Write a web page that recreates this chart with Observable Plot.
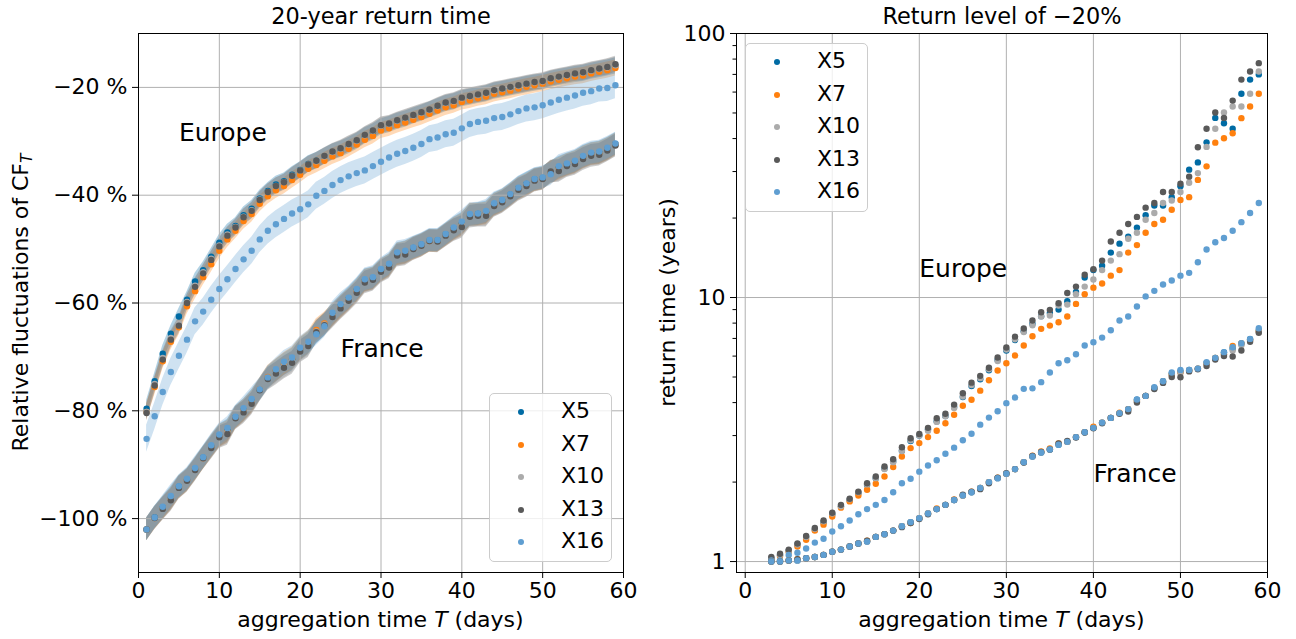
<!DOCTYPE html>
<html><head><meta charset="utf-8">
<script src="https://cdn.jsdelivr.net/npm/d3@7"></script>
<script src="https://cdn.jsdelivr.net/npm/@observablehq/plot@0.6"></script>
<style>
body{margin:0;background:#fff;}
#fig{position:relative;width:1296px;height:639px;font-family:"DejaVu Sans",sans-serif;color:#000;overflow:hidden;}
#fig svg{position:absolute;top:0;}
.legend{position:absolute;border:1px solid #cccccc;border-radius:5px;background:rgba(255,255,255,0.8);box-sizing:border-box;}
.legend .mk{position:absolute;width:6px;height:6px;border-radius:50%;}
.legend .tx{position:absolute;font-size:22px;line-height:22px;white-space:nowrap;}
</style></head>
<body><div id="fig"></div>
<script>
// ---------- categories ----------
const series = ["X5","X7","X10","X13","X16"];
const colors = ["#006BA4","#FF800E","#ABABAB","#595959","#5F9ED1"];

// ---------- left panel: 20-year return time (relative fluctuation, %) ----------
const daysLeft = [1,2,3,4,5,6,7,8,9,10,11,12,13,14,15,16,17,18,19,20,21,22,23,24,25,26,27,28,29,30,31,32,33,34,35,36,37,38,39,40,41,42,43,44,45,46,47,48,49,50,51,52,53,54,55,56,57,58,59];
const europeLeftX5  = [-79.6,-74.5,-69.4,-65.7,-62.5,-59.4,-56.0,-53.9,-51.4,-48.8,-46.9,-45.7,-43.7,-42.5,-40.6,-39.2,-38.0,-37.4,-36.2,-35.3,-34.2,-33.6,-32.8,-32.0,-31.5,-30.8,-30.0,-29.0,-28.3,-27.3,-26.9,-26.3,-25.9,-25.3,-24.8,-24.2,-23.6,-23.0,-22.7,-22.1,-21.8,-21.5,-21.2,-20.7,-20.4,-20.1,-19.8,-19.5,-19.2,-19.0,-18.5,-18.2,-17.9,-17.6,-17.4,-17.0,-16.7,-16.4,-16.0];
const europeLeftX7  = [-80.2,-75.6,-70.8,-67.2,-64.5,-60.6,-57.8,-55.2,-52.8,-50.3,-48.2,-46.6,-44.8,-43.5,-41.6,-40.2,-39.1,-38.3,-37.2,-36.2,-35.1,-34.4,-33.6,-32.8,-32.2,-31.4,-30.6,-29.7,-29.0,-28.0,-27.6,-27.0,-26.5,-26.0,-25.5,-24.9,-24.3,-23.7,-23.3,-22.7,-22.4,-22.0,-21.7,-21.2,-20.9,-20.6,-20.2,-19.9,-19.6,-19.3,-18.9,-18.6,-18.3,-18.0,-17.8,-17.4,-17.1,-16.8,-16.4];
const europeLeftX10 = [-80.2,-75.0,-70.2,-66.5,-63.8,-59.8,-56.8,-54.3,-51.8,-49.3,-47.3,-45.9,-44.0,-42.8,-40.8,-39.4,-38.3,-37.6,-36.4,-35.4,-34.3,-33.7,-32.8,-32.0,-31.4,-30.6,-29.9,-28.9,-28.1,-27.1,-26.8,-26.2,-25.7,-25.2,-24.7,-24.2,-23.5,-22.9,-22.6,-22.0,-21.7,-21.4,-21.1,-20.6,-20.3,-20.0,-19.7,-19.4,-19.1,-18.9,-18.4,-18.1,-17.8,-17.5,-17.3,-16.9,-16.6,-16.3,-15.9];
const europeLeftX13 = [-80.4,-75.3,-70.5,-66.8,-64.2,-60.0,-57.0,-54.5,-52.0,-49.5,-47.5,-46.0,-44.1,-42.9,-40.9,-39.4,-38.3,-37.6,-36.4,-35.4,-34.3,-33.6,-32.7,-31.9,-31.3,-30.5,-29.8,-28.8,-28.0,-27.0,-26.7,-26.1,-25.6,-25.1,-24.6,-24.1,-23.4,-22.8,-22.5,-21.9,-21.6,-21.3,-21.0,-20.5,-20.2,-19.9,-19.6,-19.3,-19.0,-18.8,-18.3,-18.0,-17.7,-17.4,-17.2,-16.8,-16.5,-16.2,-15.7];
const europeLeftX16 = [-85.2,-81.0,-76.5,-72.8,-69.8,-66.8,-63.4,-61.6,-59.4,-57.4,-55.6,-53.7,-51.9,-50.3,-48.2,-46.6,-45.4,-44.4,-43.4,-42.6,-41.7,-40.1,-39.2,-38.1,-37.2,-36.5,-35.9,-35.4,-34.6,-33.8,-33.0,-32.3,-31.8,-31.2,-30.5,-29.6,-29.3,-28.7,-28.4,-27.6,-26.8,-26.4,-26.2,-25.7,-25.5,-25.0,-24.4,-23.9,-23.7,-23.3,-22.8,-22.3,-21.9,-21.5,-21.0,-20.7,-20.2,-20.1,-19.6];
const franceLeftX5  = [-102,-99.8,-98,-96.2,-94.1,-92.8,-90.8,-88.7,-86.6,-84.6,-83.7,-81.2,-79.9,-78.2,-76.1,-73.9,-72.6,-71.4,-70.5,-68.6,-67.5,-65.5,-64,-62.2,-60.6,-59.2,-57.6,-55.8,-55.4,-53.9,-53,-50.9,-50.6,-49.8,-49.2,-48.4,-48.4,-47.3,-46.2,-45.3,-43.7,-43.5,-43.2,-41.7,-41,-39.9,-38.7,-37.9,-37.1,-36.8,-35.8,-34.9,-34.3,-33.8,-32.9,-32.3,-32.1,-31.4,-30.5];
const franceLeftX7  = [-102,-99.9,-98.1,-96.4,-94.2,-92.9,-90.9,-88.8,-86.7,-84.7,-83.9,-81.3,-80,-78.4,-76,-73.7,-72.5,-71.3,-70.3,-68.5,-67.3,-65,-63.8,-62.3,-60.8,-59.4,-57.8,-55.9,-55.5,-54,-53.1,-51,-50.7,-49.9,-49.3,-48.5,-48.5,-47.4,-46.3,-45.5,-43.6,-43.6,-43.4,-41.8,-41.1,-40,-38.8,-38.1,-37.2,-36.9,-35.8,-35.1,-34.4,-33.9,-33,-32.4,-32.2,-31.5,-30.6];
const franceLeftX10 = [-102,-99.9,-98.1,-96.4,-94.2,-92.9,-90.9,-88.8,-86.8,-84.8,-84,-81.3,-80.1,-78.5,-76.1,-74,-72.9,-71.8,-70.8,-68.8,-67.8,-65.3,-64,-62.4,-60.8,-59.4,-57.9,-56,-55.6,-54.1,-53.2,-51.1,-50.8,-49.9,-49.3,-48.4,-48.5,-47.4,-46.4,-45.6,-43.8,-43.7,-43.6,-41.9,-41.2,-40.1,-38.9,-38.2,-37.2,-36.9,-35.7,-35.3,-34.5,-34,-33.1,-32.5,-32.3,-31.6,-30.7];
const franceLeftX13 = [-102,-99.9,-98.2,-96.6,-94.3,-93,-91,-88.8,-86.9,-84.9,-84.3,-81.4,-80.3,-78.7,-76.2,-74.1,-73.1,-72,-71.1,-69,-68,-65.4,-64.1,-62.6,-61,-59.6,-58.1,-56.2,-55.7,-54.2,-53.4,-51.2,-51,-50,-49.4,-48.5,-48.6,-47.5,-46.5,-45.9,-44,-43.8,-43.8,-42,-41.3,-40.2,-39,-38.3,-37.3,-37,-35.6,-35.5,-34.6,-34.2,-33.3,-32.7,-32.5,-31.7,-30.8];
const franceLeftX16 = [-102.0,-99.8,-97.8,-95.8,-94.0,-92.6,-90.6,-88.6,-86.4,-84.4,-83.2,-81.1,-79.5,-77.8,-76.0,-73.8,-72.3,-70.9,-70.1,-68.3,-67.2,-65.8,-64.3,-61.8,-60.2,-59.0,-57.4,-55.6,-55.2,-53.7,-52.7,-50.6,-50.3,-49.7,-49.1,-48.3,-48.3,-47.2,-46.0,-44.9,-43.5,-43.4,-42.9,-41.5,-40.9,-39.8,-38.6,-37.8,-37.0,-36.7,-36.1,-34.6,-34.1,-33.6,-32.7,-32.1,-31.9,-31.2,-30.4];
// half-width of the shaded uncertainty band (percentage points), per series
const europeBandHalfWidth = [1.5,1.5,1.5,1.5,2.5];
const franceBandHalfWidth = [2.1,2.1,2.1,2.1,2.1];
const yTicksLeft = [-100,-80,-60,-40,-20];
const xTicks = [0,10,20,30,40,50,60];

// ---------- right panel: return time (years) of a -20% level ----------
const daysRight = [3,4,5,6,7,8,9,10,11,12,13,14,15,16,17,18,19,20,21,22,23,24,25,26,27,28,29,30,31,32,33,34,35,36,37,38,39,40,41,42,43,44,45,46,47,48,49,50,51,52,53,54,55,56,57,58,59];
const europeRightX5  = [1.03,1.06,1.10,1.16,1.24,1.32,1.41,1.51,1.62,1.71,1.82,1.95,2.07,2.25,2.40,2.63,2.86,3.00,3.17,3.40,3.56,3.85,4.20,4.62,4.90,5.30,5.80,6.30,6.90,7.45,7.95,8.50,8.73,9.00,9.68,10.5,11.9,12.7,13.2,14.8,16.0,17.0,18.4,20.5,22.3,22.3,24.0,26.4,30.5,32.5,38.7,47.9,45.7,43.6,59.1,66.9,70.0];
const europeRightX7  = [1.02,1.05,1.09,1.14,1.21,1.31,1.38,1.48,1.60,1.69,1.78,1.87,1.97,2.10,2.28,2.50,2.69,2.81,2.96,3.13,3.34,3.60,3.89,4.10,4.44,4.86,5.29,5.64,6.03,6.58,7.13,7.61,7.83,8.06,8.47,9.46,10.3,10.9,11.3,12.1,12.7,14.8,15.8,17.6,19.0,19.7,21.5,23.4,24.0,27.9,31.4,38.6,40.1,41.9,47.8,52.9,59.1];
const europeRightX10 = [1.03,1.06,1.10,1.16,1.24,1.33,1.42,1.52,1.62,1.72,1.83,1.96,2.07,2.24,2.38,2.62,2.88,3.00,3.13,3.38,3.55,3.82,4.22,4.66,4.95,5.35,5.75,6.35,6.95,7.40,7.85,8.47,8.55,9.33,9.40,10.3,11.0,11.7,12.7,13.8,14.6,16.7,17.6,19.7,20.9,22.8,23.3,25.1,27.2,29.6,37.2,43.6,50.2,52.9,52.9,59.1,71.8];
const europeRightX13 = [1.04,1.07,1.11,1.17,1.25,1.34,1.43,1.53,1.64,1.73,1.84,1.98,2.10,2.29,2.44,2.71,2.93,3.04,3.21,3.49,3.63,3.93,4.34,4.76,5.05,5.42,5.93,6.47,7.11,7.63,8.18,8.80,8.98,9.51,10.4,11.0,12.2,12.8,13.8,16.3,17.6,19.0,20.2,21.9,22.8,25.1,25.1,27.0,28.7,37.1,43.6,50.2,47.9,55.7,66.9,71.8,77.2];
const europeRightX16 = [1.01,1.01,1.06,1.08,1.12,1.18,1.22,1.30,1.36,1.43,1.51,1.58,1.64,1.71,1.83,1.98,2.06,2.19,2.31,2.42,2.56,2.70,2.88,3.05,3.30,3.51,3.71,3.98,4.18,4.51,4.53,4.78,5.20,5.64,5.79,6.10,6.58,6.77,7.05,7.52,8.18,8.47,9.25,10.1,10.6,11.2,11.6,12.1,12.4,13.6,15.2,16.2,16.8,17.9,19.3,20.9,22.8];
const franceRightX5  = [1.0,1.0,1.01,1.01,1.03,1.04,1.06,1.09,1.11,1.14,1.17,1.19,1.24,1.27,1.31,1.36,1.41,1.46,1.52,1.58,1.64,1.71,1.78,1.83,1.90,2.00,2.07,2.15,2.24,2.38,2.50,2.59,2.66,2.77,2.84,2.96,3.09,3.21,3.36,3.50,3.65,3.78,4.10,4.24,4.55,4.82,5.15,5.25,5.32,5.38,5.65,5.90,6.20,6.40,6.70,6.95,7.50];
const franceRightX7  = [1.0,1.0,1.01,1.02,1.03,1.04,1.06,1.09,1.11,1.14,1.17,1.20,1.24,1.27,1.31,1.36,1.40,1.46,1.52,1.59,1.64,1.72,1.78,1.84,1.90,2.00,2.08,2.15,2.24,2.38,2.52,2.61,2.68,2.80,2.84,2.96,3.09,3.24,3.36,3.50,3.66,3.78,4.06,4.24,4.55,4.80,5.10,5.20,5.30,5.38,5.62,5.90,6.10,6.55,6.70,6.90,7.45];
const franceRightX10 = [1.0,1.0,1.01,1.01,1.03,1.04,1.06,1.09,1.11,1.14,1.17,1.19,1.24,1.27,1.31,1.36,1.41,1.46,1.52,1.58,1.64,1.71,1.78,1.83,1.89,2.00,2.07,2.15,2.24,2.38,2.50,2.59,2.66,2.78,2.84,2.96,3.09,3.21,3.36,3.50,3.65,3.75,4.05,4.24,4.52,4.80,5.10,5.20,5.30,5.38,5.62,5.88,6.10,6.30,6.60,6.90,7.40];
const franceRightX13 = [1.0,1.0,1.01,1.02,1.03,1.04,1.06,1.09,1.11,1.14,1.17,1.20,1.24,1.27,1.31,1.35,1.40,1.45,1.51,1.58,1.64,1.71,1.79,1.84,1.88,1.98,2.08,2.16,2.24,2.37,2.51,2.60,2.66,2.80,2.86,2.95,3.08,3.20,3.34,3.50,3.63,3.70,4.00,4.24,4.50,4.75,5.00,4.99,5.25,5.35,5.50,5.82,6.00,5.98,6.30,6.80,7.35];
const franceRightX16 = [1.0,1.0,1.01,1.01,1.03,1.04,1.06,1.09,1.11,1.14,1.17,1.19,1.24,1.27,1.31,1.36,1.41,1.46,1.52,1.58,1.64,1.71,1.78,1.83,1.90,2.00,2.07,2.15,2.24,2.38,2.50,2.59,2.66,2.77,2.84,2.96,3.09,3.21,3.36,3.50,3.65,3.78,4.11,4.24,4.57,4.82,5.20,5.32,5.32,5.38,5.69,5.91,6.21,6.48,6.71,6.97,7.65];
const yTicksRight = [1,10,100];
const yMinorTicksRight = [2,3,4,5,6,7,8,9,20,30,40,50,60,70,80,90];

// ---------- text ----------
const titleLeft = "20-year return time";
const titleRight = "Return level of \u221220%";
const annotationsLeft = [{label:"Europe", day:5, value:-30}, {label:"France", day:25, value:-70}];
const annotationsRight = [{label:"Europe", day:20, value:12}, {label:"France", day:40, value:2}];

// ---------- build rows ----------
function buildRows(region, days, arrays, halfWidths) {
  const out = [];
  arrays.forEach((arr, i) => arr.forEach((v, j) => {
    const row = {region, series: series[i], day: days[j], value: v};
    if (halfWidths) { row.lo = v - halfWidths[i]; row.hi = v + halfWidths[i]; }
    out.push(row);
  }));
  return out;
}
const leftRows = [
  ...buildRows("Europe", daysLeft, [europeLeftX5,europeLeftX7,europeLeftX10,europeLeftX13,europeLeftX16], europeBandHalfWidth),
  ...buildRows("France", daysLeft, [franceLeftX5,franceLeftX7,franceLeftX10,franceLeftX13,franceLeftX16], franceBandHalfWidth)
];
const rightRows = [
  ...buildRows("Europe", daysRight, [europeRightX5,europeRightX7,europeRightX10,europeRightX13,europeRightX16]),
  ...buildRows("France", daysRight, [franceRightX5,franceRightX7,franceRightX10,franceRightX13,franceRightX16])
];

const gridStyle = {stroke:"#b0b0b0", strokeOpacity:1, strokeWidth:1};
const style = {fontFamily:"DejaVu Sans", fontSize:"22px", background:"transparent", color:"black", overflow:"visible"};

function bandMarks(rows) {
  const marks = [];
  for (const region of ["Europe","France"]) series.forEach((s, i) => {
    marks.push(Plot.areaY(rows.filter(d => d.region === region && d.series === s),
      {x:"day", y1:"lo", y2:"hi", fill:colors[i], fillOpacity:0.3}));
  });
  return marks;
}
function dotMarks(rows) {
  const marks = [];
  for (const region of ["Europe","France"]) series.forEach((s, i) => {
    marks.push(Plot.dot(rows.filter(d => d.region === region && d.series === s),
      {x:"day", y:"value", r:3.2, fill:colors[i], stroke:null}));
  });
  return marks;
}

const leftPlot = Plot.plot({
  width:650, height:639,
  marginTop:33, marginBottom:67, marginLeft:138, marginRight:27,
  style,
  x:{domain:[0,60], label:null},
  y:{domain:[-110,-10], label:null},
  marks:[
    ...bandMarks(leftRows),
    Plot.gridX(xTicks, gridStyle),
    Plot.gridY(yTicksLeft, gridStyle),
    ...dotMarks(leftRows),
    Plot.text(annotationsLeft, {x:"day", y:"value", text:"label", textAnchor:"start", lineAnchor:"bottom", fontSize:25, fill:"black"}),
    Plot.frame({stroke:"black", strokeWidth:1}),
    Plot.axisX(xTicks, {tickSize:6, tickPadding:4, label:null, fontSize:22}),
    Plot.axisY(yTicksLeft, {tickSize:6, tickPadding:5, label:null, fontSize:22, tickFormat: d => "\u2212" + Math.abs(d) + " %"}),
    Plot.text([titleLeft], {frameAnchor:"top", dy:-10, lineAnchor:"bottom", fontSize:22.4, fill:"black"})
  ]
});

const rightPlot = Plot.plot({
  width:646, height:639,
  marginTop:33, marginBottom:67, marginLeft:86, marginRight:29,
  style,
  x:{domain:[-1,60], label:null},
  y:{type:"log", domain:[0.909,100], label:null},
  marks:[
    Plot.gridX(xTicks, gridStyle),
    Plot.gridY(yTicksRight, gridStyle),
    ...dotMarks(rightRows),
    Plot.text(annotationsRight, {x:"day", y:"value", text:"label", textAnchor:"start", lineAnchor:"bottom", fontSize:25, fill:"black"}),
    Plot.frame({stroke:"black", strokeWidth:1}),
    Plot.axisX(xTicks, {tickSize:6, tickPadding:4, label:null, fontSize:22}),
    Plot.axisY(yTicksRight, {tickSize:6, tickPadding:5, label:null, fontSize:22, tickFormat: d => String(d)}),
    Plot.axisY(yMinorTicksRight, {tickSize:3.5, label:null, tickFormat: () => ""}),
    Plot.text([titleRight], {frameAnchor:"top", dy:-10, lineAnchor:"bottom", fontSize:22.4, fill:"black"})
  ]
});

const fig = document.getElementById("fig");
leftPlot.style.left = "0px";
rightPlot.style.left = "650px";
fig.appendChild(leftPlot);
fig.appendChild(rightPlot);

// rich-text axis labels (italic T, subscript)
function addRichText(svg, x, y, rotate, parts) {
  const t = d3.select(svg).append("text")
    .attr("transform", `translate(${x},${y}) rotate(${rotate})`)
    .attr("text-anchor", "middle").attr("font-size", 22)
    .attr("font-family", "DejaVu Sans").attr("fill", "black");
  for (const p of parts) {
    const ts = t.append("tspan").text(p.text);
    if (p.italic) ts.attr("font-style", "italic");
    if (p.sub) ts.attr("font-size", 15.5).attr("dy", "0.25em");
  }
}
const xLabelParts = [{text:"aggregation time "},{text:"T", italic:true},{text:" (days)"}];
addRichText(leftPlot, 380.5, 627, 0, xLabelParts);
addRichText(rightPlot, 351.5, 627, 0, xLabelParts);
addRichText(leftPlot, 28, 302.5, -90, [{text:"Relative fluctuations of CF"},{text:"T", italic:true, sub:true}]);
addRichText(rightPlot, 25, 302.5, -90, [{text:"return time (years)"}]);

// legends
function addLegend(left, top) {
  const box = document.createElement("div");
  box.className = "legend";
  Object.assign(box.style, {left:left+"px", top:top+"px", width:"123px", height:"169px"});
  series.forEach((s, i) => {
    const cy = 18 + i * 32.5;
    const mk = document.createElement("div");
    mk.className = "mk";
    Object.assign(mk.style, {left:(31-3)+"px", top:(cy-3)+"px", background:colors[i]});
    const tx = document.createElement("div");
    tx.className = "tx";
    tx.textContent = s;
    Object.assign(tx.style, {left:"71px", top:(cy-12)+"px"});
    box.appendChild(mk); box.appendChild(tx);
  });
  fig.appendChild(box);
}
addLegend(489, 393);
addLegend(745, 43);
</script>
</body></html>
